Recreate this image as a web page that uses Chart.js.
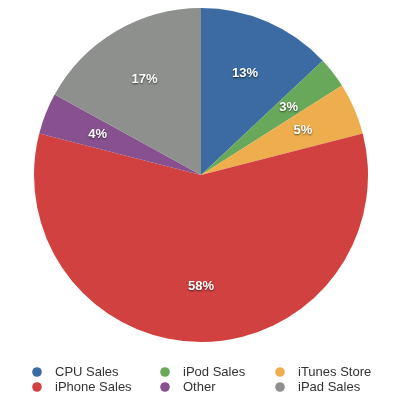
<!DOCTYPE html>
<html>
<head>
<meta charset="utf-8">
<script src="https://cdn.jsdelivr.net/npm/chart.js@4.4.0/dist/chart.umd.min.js"></script>
<style>
  html, body { margin: 0; padding: 0; background: #fff; }
  #wrap { position: relative; width: 399px; height: 402px; }
</style>
</head>
<body>
<div id="wrap"><canvas id="pieChart" width="399" height="402"></canvas></div>
<script>
// Data
const categories = ['CPU Sales', 'iPod Sales', 'iTunes Store', 'iPhone Sales', 'Other', 'iPad Sales'];
const shares = [13, 3, 5, 58, 4, 17];
const sliceColors = ['#3b6ba2', '#68a85a', '#eeae4d', '#d14140', '#87508f', '#8e908e'];
// legend grid: row by row, three columns
const legendOrder = [0, 1, 2, 3, 4, 5];

// Percent labels inside each slice
const sliceLabels = {
  id: 'sliceLabels',
  afterDatasetsDraw(chart) {
    const ctx = chart.ctx;
    const meta = chart.getDatasetMeta(0);
    const total = shares.reduce((a, b) => a + b, 0);
    ctx.save();
    ctx.font = 'bold 13px "Liberation Sans", Arial, sans-serif';
    ctx.fillStyle = '#fff';
    ctx.textAlign = 'center';
    ctx.textBaseline = 'middle';
    ctx.shadowColor = 'rgba(0,0,0,0.6)';
    ctx.shadowOffsetX = 0;
    ctx.shadowOffsetY = 1;
    ctx.shadowBlur = 2;
    meta.data.forEach(function (arc, i) {
      const p = arc.getProps(['x', 'y', 'startAngle', 'endAngle', 'outerRadius'], true);
      const mid = (p.startAngle + p.endAngle) / 2;
      const r = p.outerRadius * 0.665;
      const pct = Math.round(shares[i] / total * 100) + '%';
      ctx.fillText(pct, p.x + Math.cos(mid) * r, p.y + Math.sin(mid) * r);
    });
    ctx.restore();
  }
};

// Legend in a 3-column grid under the pie
const gridLegend = {
  id: 'gridLegend',
  afterDraw(chart) {
    const ctx = chart.ctx;
    const colX = [37, 165, 280];
    const rowY = [372, 387];
    ctx.save();
    ctx.font = '13px "Liberation Sans", Arial, sans-serif';
    ctx.textBaseline = 'middle';
    ctx.textAlign = 'left';
    legendOrder.forEach(function (idx, k) {
      const x = colX[k % 3];
      const y = rowY[Math.floor(k / 3)];
      ctx.fillStyle = sliceColors[idx];
      ctx.beginPath();
      ctx.arc(x, y, 4.8, 0, Math.PI * 2);
      ctx.fill();
      ctx.fillStyle = '#333';
      ctx.fillText(categories[idx], x + 18, y + 0.5);
    });
    ctx.restore();
  }
};

const ctx = document.getElementById('pieChart').getContext('2d');
const pieChart = new Chart(ctx, {
  type: 'pie',
  data: {
    labels: categories,
    datasets: [
      {
        data: shares,
        backgroundColor: sliceColors,
        borderWidth: 0,
      },
    ],
  },
  options: {
    responsive: false,
    animation: false,
    layout: {
      padding: { top: 8, bottom: 60, left: 34, right: 31 },
    },
    plugins: {
      legend: { display: false },
      tooltip: { enabled: false },
    },
  },
  plugins: [sliceLabels, gridLegend],
});
</script>
</body>
</html>
